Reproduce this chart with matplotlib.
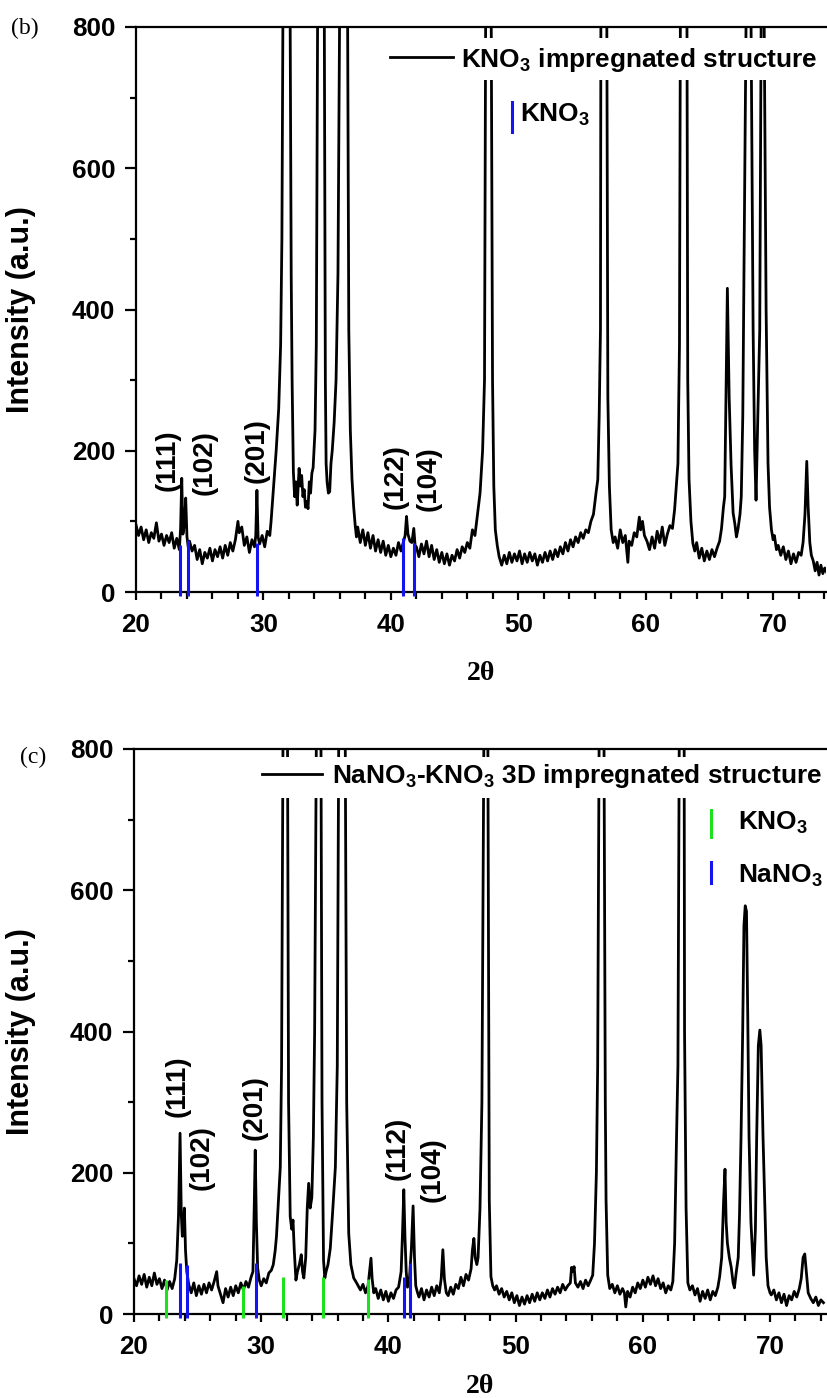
"""
XRD patterns of the KNO3 and NaNO3-KNO3 impregnated structures, panels (b) and (c).
"""

import matplotlib
matplotlib.use("Agg")
import matplotlib.pyplot as plt
import numpy as np
from matplotlib.patches import Rectangle
from matplotlib.ticker import MultipleLocator

plt.rcParams["font.family"] = ["Liberation Sans", "DejaVu Sans"]
plt.rcParams["font.weight"] = "bold"
plt.rcParams["mathtext.fontset"] = "custom"
plt.rcParams["mathtext.rm"] = "Liberation Sans:bold"
plt.rcParams["mathtext.it"] = "Liberation Sans:bold"
plt.rcParams["mathtext.bf"] = "Liberation Sans:bold"

BLUE = "#1414f0"
GREEN = "#1ee01e"

# ---- panel (b): KNO3 impregnated structure ----
TWO_THETA_B = [
    20.0, 20.2, 20.4, 20.6, 20.8, 21.0, 21.2, 21.4, 21.6, 21.8,
    22.0, 22.2, 22.4, 22.6, 22.8, 23.0, 23.2, 23.4, 23.5, 23.59,
    23.68, 23.8, 23.9, 24.0, 24.1, 24.2, 24.4, 24.6, 24.8, 25.0,
    25.2, 25.4, 25.6, 25.8, 26.0, 26.2, 26.4, 26.6, 26.8, 27.0,
    27.2, 27.4, 27.6, 27.8, 28.0, 28.1, 28.3, 28.5, 28.7, 28.9,
    29.1, 29.3, 29.4, 29.49, 29.58, 29.7, 29.9, 30.1, 30.3, 30.5,
    30.6, 30.8, 31.0, 31.2, 31.35, 31.45, 31.53, 31.8, 32.1, 32.18,
    32.25, 32.35, 32.45, 32.55, 32.65, 32.8, 32.9, 33.0, 33.1, 33.2,
    33.3, 33.4, 33.5, 33.6, 33.7, 33.8, 33.9, 34.05, 34.15, 34.25,
    34.5, 34.78, 34.86, 34.92, 35.0, 35.1, 35.2, 35.3, 35.4, 35.55,
    35.7, 35.85, 35.98, 36.3, 36.61, 36.7, 36.82, 36.95, 37.08, 37.2,
    37.3, 37.4, 37.6, 37.8, 38.0, 38.2, 38.4, 38.6, 38.8, 39.0,
    39.2, 39.4, 39.6, 39.8, 40.0, 40.2, 40.4, 40.6, 40.8, 41.0,
    41.12, 41.23, 41.34, 41.5, 41.65, 41.8, 41.92, 42.0, 42.2, 42.4,
    42.6, 42.8, 43.0, 43.2, 43.4, 43.6, 43.8, 44.0, 44.2, 44.4,
    44.6, 44.8, 45.0, 45.2, 45.4, 45.6, 45.8, 46.0, 46.2, 46.4,
    46.6, 46.8, 47.0, 47.2, 47.35, 47.44, 47.65, 47.88, 47.98, 48.08,
    48.2, 48.35, 48.5, 48.7, 48.9, 49.1, 49.3, 49.5, 49.7, 49.9,
    50.1, 50.3, 50.5, 50.7, 50.9, 51.1, 51.3, 51.5, 51.7, 51.9,
    52.1, 52.3, 52.5, 52.7, 52.9, 53.1, 53.3, 53.5, 53.7, 53.9,
    54.1, 54.3, 54.5, 54.7, 54.9, 55.1, 55.3, 55.5, 55.7, 55.9,
    56.1, 56.24, 56.35, 56.45, 56.48, 56.7, 56.95, 57.03, 57.15, 57.29,
    57.45, 57.6, 57.8, 58.0, 58.2, 58.4, 58.6, 58.7, 58.9, 59.1,
    59.3, 59.5, 59.6, 59.75, 59.9, 60.1, 60.3, 60.5, 60.7, 60.9,
    61.1, 61.3, 61.5, 61.7, 61.9, 62.1, 62.27, 62.4, 62.53, 62.65,
    62.72, 62.98, 63.24, 63.3, 63.4, 63.55, 63.7, 63.85, 64.0, 64.2,
    64.4, 64.6, 64.8, 65.0, 65.2, 65.4, 65.6, 65.8, 65.95, 66.1,
    66.2, 66.32, 66.41, 66.5, 66.55, 66.7, 66.86, 67.0, 67.12, 67.25,
    67.4, 67.5, 67.62, 67.74, 67.88, 68.08, 68.27, 68.43, 68.55, 68.66,
    68.8, 68.95, 69.06, 69.18, 69.3, 69.45, 69.6, 69.72, 69.87, 70.0,
    70.1, 70.26, 70.4, 70.6, 70.8, 71.0, 71.2, 71.4, 71.6, 71.8,
    72.0, 72.2, 72.35, 72.5, 72.64, 72.75, 72.88, 73.0, 73.15, 73.3,
    73.45, 73.6, 73.75, 73.9, 74.05, 74.2,
]
INTENSITY_B = [
    95, 80, 92, 74, 88, 70, 84, 76, 98, 72,
    82, 66, 80, 70, 84, 62, 76, 60, 90, 161,
    82, 95, 133, 78, 64, 72, 58, 66, 46, 60,
    40, 56, 48, 62, 44, 60, 50, 64, 48, 66,
    52, 70, 58, 74, 100, 84, 92, 66, 78, 56,
    74, 64, 80, 144, 78, 68, 80, 64, 86, 80,
    100, 150, 200, 260, 350, 500, 800, 2500, 800, 450,
    300, 170, 135, 156, 123, 175, 150, 165, 135, 145,
    120, 128, 118, 156, 140, 168, 176, 229, 350, 800,
    2000, 800, 300, 182, 155, 140, 142, 182, 200, 240,
    300, 450, 800, 2600, 800, 371, 229, 160, 121, 95,
    78, 92, 70, 88, 66, 84, 62, 80, 58, 74,
    56, 72, 52, 66, 50, 62, 52, 70, 58, 72,
    80, 107, 82, 72, 70, 90, 62, 64, 50, 68,
    54, 72, 50, 66, 46, 60, 42, 56, 40, 54,
    38, 52, 44, 60, 48, 64, 56, 70, 62, 88,
    80, 110, 140, 200, 300, 800, 2600, 800, 300, 150,
    88, 66, 50, 38, 52, 40, 56, 42, 54, 44,
    58, 40, 54, 42, 56, 44, 54, 38, 52, 42,
    56, 44, 58, 46, 60, 50, 64, 54, 70, 58,
    74, 64, 78, 70, 84, 76, 88, 84, 100, 110,
    140, 159, 250, 371, 800, 2600, 800, 276, 150, 88,
    70, 78, 62, 88, 70, 80, 42, 72, 66, 84,
    78, 106, 88, 100, 80, 72, 60, 78, 62, 86,
    70, 92, 66, 82, 94, 90, 117, 150, 182, 350,
    800, 2600, 800, 300, 160, 100, 69, 58, 70, 48,
    62, 44, 58, 46, 60, 50, 62, 72, 90, 120,
    135, 300, 430, 330, 276, 180, 112, 96, 78, 90,
    110, 135, 250, 513, 800, 1500, 800, 371, 200, 130,
    250, 371, 800, 1400, 800, 400, 182, 120, 88, 74,
    80, 60, 66, 52, 64, 46, 58, 40, 54, 42,
    56, 52, 70, 110, 185, 120, 70, 52, 44, 30,
    42, 24, 38, 26, 34, 28,
]
REF_B_POS = [23.46, 24.11, 29.49, 40.97, 41.80]
REF_B_HEIGHT = [66, 74, 69, 76, 69]
HKL_B = ["(111)", "(102)", "(201)", "(122)", "(104)"]

# ---- panel (c): NaNO3-KNO3 3D impregnated structure ----
TWO_THETA_C = [
    20.0, 20.2, 20.4, 20.6, 20.8, 21.0, 21.2, 21.4, 21.6, 21.8,
    22.0, 22.2, 22.4, 22.6, 22.8, 23.0, 23.2, 23.36, 23.5, 23.62,
    23.72, 23.8, 23.88, 23.96, 24.05, 24.15, 24.3, 24.5, 24.7, 24.9,
    25.1, 25.3, 25.5, 25.7, 25.9, 26.1, 26.3, 26.5, 26.6, 26.8,
    27.0, 27.2, 27.4, 27.6, 27.8, 28.0, 28.2, 28.4, 28.6, 28.8,
    29.0, 29.2, 29.35, 29.45, 29.53, 29.62, 29.72, 29.85, 30.0, 30.2,
    30.4, 30.6, 30.8, 30.95, 31.1, 31.2, 31.35, 31.5, 31.6, 31.71,
    31.9, 32.07, 32.15, 32.28, 32.4, 32.5, 32.6, 32.73, 32.85, 33.0,
    33.15, 33.25, 33.35, 33.5, 33.62, 33.73, 33.85, 33.98, 34.1, 34.2,
    34.33, 34.5, 34.7, 34.78, 34.9, 35.0, 35.1, 35.25, 35.43, 35.6,
    35.83, 35.98, 36.09, 36.35, 36.61, 36.72, 36.88, 37.05, 37.27, 37.5,
    37.8, 38.0, 38.2, 38.4, 38.55, 38.63, 38.72, 38.85, 39.0, 39.2,
    39.4, 39.6, 39.8, 40.0, 40.2, 40.4, 40.6, 40.8, 41.0, 41.1,
    41.21, 41.3, 41.4, 41.5, 41.65, 41.8, 41.94, 42.05, 42.15, 42.26,
    42.4, 42.6, 42.8, 43.0, 43.2, 43.4, 43.6, 43.8, 44.0, 44.15,
    44.28, 44.4, 44.55, 44.7, 44.9, 45.1, 45.3, 45.5, 45.7, 45.9,
    46.1, 46.3, 46.5, 46.6, 46.72, 46.82, 46.95, 47.05, 47.2, 47.35,
    47.5, 47.66, 47.82, 47.93, 48.06, 48.2, 48.35, 48.5, 48.7, 48.9,
    49.1, 49.3, 49.5, 49.7, 49.9, 50.1, 50.3, 50.5, 50.7, 50.9,
    51.1, 51.3, 51.5, 51.7, 51.9, 52.1, 52.3, 52.5, 52.7, 52.9,
    53.1, 53.3, 53.5, 53.7, 53.9, 54.1, 54.3, 54.4, 54.5, 54.6,
    54.7, 54.9, 55.1, 55.3, 55.5, 55.7, 55.9, 56.06, 56.2, 56.35,
    56.45, 56.56, 56.75, 56.95, 57.05, 57.11, 57.24, 57.4, 57.6, 57.8,
    58.0, 58.2, 58.4, 58.55, 58.66, 58.8, 59.0, 59.2, 59.4, 59.6,
    59.8, 60.0, 60.2, 60.4, 60.6, 60.8, 61.0, 61.2, 61.4, 61.6,
    61.8, 62.0, 62.2, 62.36, 62.5, 62.65, 62.76, 62.86, 63.05, 63.25,
    63.28, 63.4, 63.54, 63.7, 63.9, 64.1, 64.3, 64.5, 64.7, 64.9,
    65.1, 65.3, 65.5, 65.7, 65.9, 66.04, 66.2, 66.35, 66.46, 66.55,
    66.65, 66.8, 66.95, 67.1, 67.2, 67.35, 67.5, 67.6, 67.72, 67.85,
    67.95, 68.05, 68.15, 68.25, 68.35, 68.5, 68.71, 68.85, 68.95, 69.08,
    69.2, 69.3, 69.45, 69.58, 69.7, 69.84, 70.0, 70.1, 70.3, 70.5,
    70.7, 70.9, 71.1, 71.3, 71.5, 71.7, 71.9, 72.1, 72.3, 72.45,
    72.6, 72.73, 72.85, 73.0, 73.2, 73.4, 73.6, 73.8, 74.0, 74.2,
]
INTENSITY_C = [
    50, 40, 54, 42, 56, 38, 52, 40, 58, 42,
    50, 36, 48, 34, 46, 36, 50, 76, 140, 256,
    140, 110, 125, 150, 90, 60, 42, 30, 44, 26,
    40, 28, 42, 30, 44, 34, 46, 60, 40, 28,
    16, 36, 24, 38, 26, 40, 30, 44, 34, 46,
    38, 52, 60, 150, 232, 130, 65, 48, 40, 50,
    44, 58, 62, 70, 90, 110, 160, 208, 350, 800,
    2500, 800, 300, 138, 120, 133, 90, 48, 60, 70,
    84, 60, 51, 80, 150, 185, 150, 165, 250, 400,
    800, 2500, 800, 300, 76, 51, 60, 70, 93, 140,
    208, 351, 800, 2600, 800, 300, 114, 70, 51, 44,
    34, 42, 30, 40, 65, 79, 50, 30, 36, 22,
    34, 20, 32, 18, 30, 22, 34, 38, 60, 110,
    176, 110, 60, 38, 50, 90, 153, 80, 40, 32,
    24, 36, 20, 34, 24, 38, 26, 40, 30, 50,
    91, 50, 30, 26, 38, 28, 42, 36, 52, 40,
    56, 48, 64, 90, 107, 80, 70, 80, 150, 300,
    800, 2600, 800, 161, 53, 40, 34, 40, 28, 36,
    24, 32, 20, 30, 16, 26, 12, 24, 14, 26,
    16, 28, 18, 30, 20, 30, 22, 34, 24, 36,
    28, 38, 30, 42, 34, 40, 44, 66, 60, 67,
    44, 38, 46, 36, 48, 40, 48, 55, 100, 200,
    351, 800, 2600, 800, 300, 161, 55, 36, 42, 30,
    40, 28, 36, 30, 10, 32, 24, 38, 30, 44,
    36, 48, 38, 52, 42, 54, 40, 50, 36, 44,
    30, 40, 34, 46, 100, 250, 351, 800, 2600, 800,
    400, 150, 44, 34, 40, 27, 36, 18, 32, 22,
    34, 20, 32, 26, 38, 53, 80, 160, 205, 130,
    100, 80, 66, 44, 37, 60, 80, 140, 250, 400,
    550, 578, 570, 420, 250, 130, 55, 120, 250, 380,
    402, 380, 250, 161, 80, 40, 30, 27, 34, 20,
    30, 16, 28, 12, 26, 20, 32, 24, 36, 50,
    80, 85, 60, 30, 22, 16, 24, 12, 20, 16,
]
KNO3_C_POS = [22.50, 28.53, 31.70, 34.86, 38.40]
KNO3_C_HEIGHT = [48, 39, 52, 52, 50]
NANO3_C_POS = [23.65, 24.15, 29.60, 41.20, 41.73]
NANO3_C_HEIGHT = [72, 69, 72, 53, 72]
HKL_C = ["(111)", "(102)", "(201)", "(112)", "(104)"]

TICK_SIZE = 18.7
LEGEND_SIZE = 18.9
HKL_SIZE = 20
SERIF = ["Liberation Serif", "DejaVu Serif"]


def style_axes(ax, xmax):
    ax.set_xlim(20, xmax)
    ax.set_ylim(0, 800)
    ax.xaxis.set_major_locator(MultipleLocator(10))
    ax.xaxis.set_minor_locator(MultipleLocator(2))
    ax.yaxis.set_major_locator(MultipleLocator(200))
    ax.yaxis.set_minor_locator(MultipleLocator(100))
    ax.tick_params(which="both", direction="out", width=1.6, top=False, right=False)
    ax.tick_params(axis="y", which="major", length=8, pad=7, labelsize=TICK_SIZE)
    ax.tick_params(axis="y", which="minor", length=4.5)
    ax.tick_params(axis="x", which="major", length=6, pad=9, labelsize=TICK_SIZE)
    ax.tick_params(axis="x", which="minor", length=5)
    for side in ("left", "bottom", "top"):
        ax.spines[side].set_linewidth(1.6)
    ax.spines["right"].set_visible(False)
    ax.set_ylabel("Intensity (a.u.)", fontsize=22, fontweight="bold")
    ax.set_xlabel("2θ", fontsize=20, fontweight="bold", family=SERIF)


def draw_sticks(ax, pos, height, color):
    ax.vlines(pos, -6, height, colors=color, linewidth=2.2, zorder=4, clip_on=False)


fig = plt.figure(figsize=(8.27, 13.98), dpi=100)
ax_b = fig.add_axes([136 / 827, 1 - 592 / 1398, 690 / 827, 565 / 1398])
ax_c = fig.add_axes([134 / 827, 1 - 1314 / 1398, 692 / 827, 565 / 1398])

# panel (b)
ax_b.plot(TWO_THETA_B, INTENSITY_B, color="black", linewidth=2.0, zorder=3)
draw_sticks(ax_b, REF_B_POS, REF_B_HEIGHT, BLUE)
style_axes(ax_b, 74.15)
ax_b.yaxis.set_label_coords(-0.145, 0.5)
ax_b.xaxis.set_label_coords(0.5, -0.122)

for label, x, y in zip(HKL_B, [22.5, 25.4, 29.5, 40.4, 43.0], [187, 183, 200, 164, 161]):
    ax_b.text(x, y, label, rotation=90, ha="center", va="center",
              fontsize=HKL_SIZE, fontweight="bold", zorder=5)

ax_b.add_patch(Rectangle((0.354, 0.906), 0.646, 0.075, transform=ax_b.transAxes,
                         facecolor="white", edgecolor="none", zorder=6))
ax_b.plot([0.368, 0.459], [0.947, 0.947], transform=ax_b.transAxes,
          color="black", linewidth=2.0, zorder=7)
ax_b.text(0.471, 0.929, "KNO$_3$ impregnated structure", transform=ax_b.transAxes,
          fontsize=LEGEND_SIZE, fontweight="bold", va="baseline", zorder=7)
ax_b.plot([0.545, 0.545], [0.814, 0.867], transform=ax_b.transAxes,
          color=BLUE, linewidth=2.2, zorder=7)
ax_b.text(0.557, 0.832, "KNO$_3$", transform=ax_b.transAxes,
          fontsize=LEGEND_SIZE, fontweight="bold", va="baseline", zorder=7)

# panel (c)
ax_c.plot(TWO_THETA_C, INTENSITY_C, color="black", linewidth=2.0, zorder=3)
draw_sticks(ax_c, KNO3_C_POS, KNO3_C_HEIGHT, GREEN)
draw_sticks(ax_c, NANO3_C_POS, NANO3_C_HEIGHT, BLUE)
style_axes(ax_c, 74.4)
ax_c.yaxis.set_label_coords(-0.142, 0.5)
ax_c.xaxis.set_label_coords(0.5, -0.106)

for label, x, y in zip(HKL_C, [23.4, 25.3, 29.45, 40.7, 43.5], [323, 222, 292, 234, 205]):
    ax_c.text(x, y, label, rotation=90, ha="center", va="center",
              fontsize=HKL_SIZE, fontweight="bold", zorder=5)

ax_c.add_patch(Rectangle((0.175, 0.913), 0.825, 0.073, transform=ax_c.transAxes,
                         facecolor="white", edgecolor="none", zorder=6))
ax_c.plot([0.185, 0.272], [0.956, 0.956], transform=ax_c.transAxes,
          color="black", linewidth=2.0, zorder=7)
ax_c.text(0.286, 0.940, "NaNO$_3$-KNO$_3$ 3D impregnated structure",
          transform=ax_c.transAxes, fontsize=LEGEND_SIZE, fontweight="bold",
          va="baseline", zorder=7)
ax_c.plot([0.834, 0.834], [0.844, 0.892], transform=ax_c.transAxes,
          color=GREEN, linewidth=2.2, zorder=7)
ax_c.text(0.873, 0.857, "KNO$_3$", transform=ax_c.transAxes,
          fontsize=LEGEND_SIZE, fontweight="bold", va="baseline", zorder=7)
ax_c.plot([0.834, 0.834], [0.763, 0.800], transform=ax_c.transAxes,
          color=BLUE, linewidth=2.2, zorder=7)
ax_c.text(0.873, 0.763, "NaNO$_3$", transform=ax_c.transAxes,
          fontsize=LEGEND_SIZE, fontweight="bold", va="baseline", zorder=7)

fig.text(11 / 827, 1 - 28 / 1398, "(b)", family=SERIF, fontweight="normal",
         fontsize=17, va="center", ha="left")
fig.text(20 / 827, 1 - 757 / 1398, "(c)", family=SERIF, fontweight="normal",
         fontsize=17, va="center", ha="left")

fig.savefig("out.png", dpi=100, facecolor="white")
plt.close(fig)
